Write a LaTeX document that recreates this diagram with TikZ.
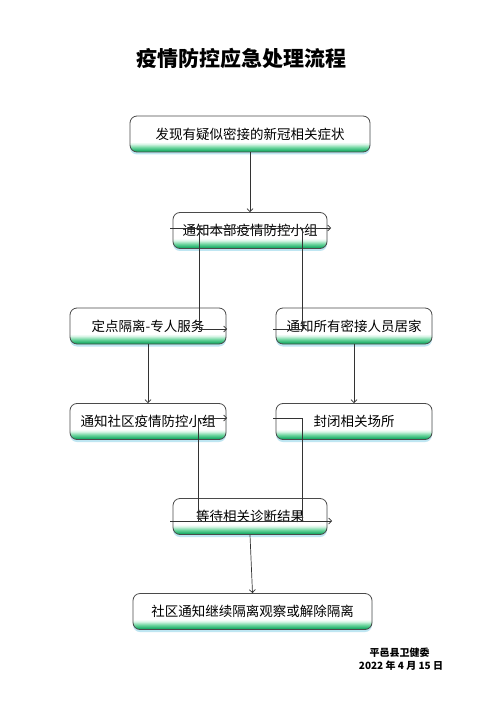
\documentclass[tikz,border=0pt]{standalone}
\usepackage{fontspec}
\setmainfont{Noto Sans CJK SC}
\usetikzlibrary{arrows.meta,shadows}
\definecolor{gdark}{HTML}{1FAF6A}
\definecolor{gmid}{HTML}{6FD6A0}
\definecolor{glight}{HTML}{D8F5E6}
\definecolor{shadowc}{HTML}{BFE6F2}
\definecolor{edgec}{HTML}{4A4A4A}
\definecolor{linec}{HTML}{333333}
\pgfdeclareverticalshading{boxshade}{100bp}{color(0bp)=(gdark); color(25bp)=(gdark); color(27bp)=(gdark); color(31.5bp)=(gmid); color(36bp)=(glight); color(39bp)=(white); color(100bp)=(white)}
\begin{document}
\begin{tikzpicture}[x=1pt,y=-1pt,
  flowbox/.style={draw=edgec, line width=0.8pt, rounded corners=7pt, shading=boxshade,
    minimum height=36pt, inner sep=0pt, font=\fontsize{13.5}{16}\selectfont,
    drop shadow={shadow xshift=0pt, shadow yshift=-2.5pt, fill=shadowc, opacity=1}},
  wire/.style={draw=linec, line width=0.7pt},
  conn/.style={wire, -{Straight Barb[length=3pt,width=6pt]}}]
\useasboundingbox (0,0) rectangle (500,708);
\fill[white] (0,0) rectangle (500,708);
\node[font=\bfseries\fontsize{21}{24}\selectfont] (title) at (241.5,58) {疫情防控应急处理流程};
\node[flowbox, minimum width=240pt] (b1) at (250,134) {\raisebox{1pt}{发现有疑似密接的新冠相关症状}};
\node[flowbox, minimum width=154pt] (b2) at (250,230.5) {\raisebox{1pt}{通知本部疫情防控小组}};
\node[flowbox, minimum width=156pt] (b3) at (148,326) {\raisebox{1pt}{定点隔离-专人服务}};
\node[flowbox, minimum width=156pt] (b4) at (354,326) {\raisebox{1pt}{通知所有密接人员居家}};
\node[flowbox, minimum width=156pt] (b5) at (148,421.5) {\raisebox{1pt}{通知社区疫情防控小组}};
\node[flowbox, minimum width=156pt] (b6) at (354,421.5) {\raisebox{1pt}{封闭相关场所}};
\node[flowbox, minimum width=154pt] (b7) at (250,516.5) {\raisebox{1pt}{等待相关诊断结果}};
\node[flowbox, minimum width=239pt] (b8) at (252.5,611.5) {\raisebox{1pt}{社区通知继续隔离观察或解除隔离}};
\node[font=\bfseries\fontsize{10}{12}\selectfont] (org) at (399.5,653) {平邑县卫健委};
\node[font=\bfseries\fontsize{10}{12}\selectfont] (date) at (401,666) {2022 年 4 月 15 日};
% named free ends
\coordinate (h2l) at (170,228);
\coordinate (h2r) at (331,228);
\coordinate (v2l) at (199,228);
\coordinate (e3) at (227,329);
\coordinate (v2r) at (302,228);
\coordinate (e4) at (273,329);
\coordinate (h5l) at (198,418);
\coordinate (h5r) at (227,418);
\coordinate (v5b) at (198,521);
\coordinate (h6l) at (273,418);
\coordinate (v6b) at (302,521);
\coordinate (h7l) at (170,521);
\coordinate (h7r) at (332,521);
% connectors
\draw[conn] (b1.south) -- (b2.north);
\draw[conn] (h2l) -- (h2r);
\draw[conn] (v2l) |- (e3);
\draw[wire] (v2r) |- (e4);
\draw[conn] (b3.south) -- (b5.north);
\draw[conn] (b4.south) -- (b6.north);
\draw[conn] (h5l) -- (h5r);
\draw[wire] (h5l) -- (v5b);
\draw[wire] (h6l) -| (v6b);
\draw[conn] (h7l) -- (h7r);
\draw[conn] (b7.south) -- (b8.north);
\end{tikzpicture}
\end{document}
